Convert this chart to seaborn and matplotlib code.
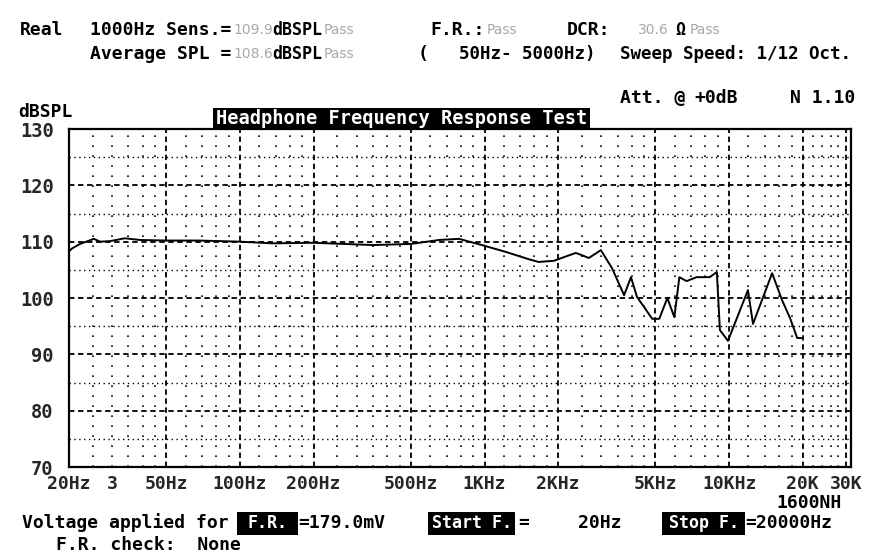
import numpy as np
import pandas as pd
import matplotlib
matplotlib.use("Agg")
import matplotlib.pyplot as plt
import matplotlib.ticker as mticker
from matplotlib.patches import Rectangle
import seaborn as sns

# frequency response
freq_hz = [20, 20.6, 22.2, 25.3, 26.8, 29.5, 33.8, 39.0, 50, 68, 100, 136, 200,
           351, 500, 540, 652, 787, 974, 1218, 1513, 1662, 1919, 2360, 2500,
           2670, 2990, 3320, 3720, 3970, 4200, 4850, 5180, 5590, 5970, 6260,
           6700, 7360, 8330, 8910, 9170, 9890, 11940, 12520, 14990, 16470,
           17760, 18980, 19890]
spl_db = [108.3, 108.8, 109.6, 110.5, 110.0, 110.1, 110.6, 110.3, 110.2, 110.2,
          110.0, 109.7, 109.8, 109.4, 109.6, 109.8, 110.3, 110.5, 109.4, 108.2,
          106.9, 106.4, 106.6, 108.0, 107.6, 107.1, 108.5, 105.3, 100.5, 103.7,
          100.2, 96.3, 96.3, 100.0, 96.6, 103.7, 103.0, 103.7, 103.7, 104.6,
          94.3, 92.4, 101.4, 95.4, 104.4, 99.6, 96.4, 92.9, 92.9]

major_f = [20, 50, 100, 200, 500, 1000, 2000, 5000, 10000, 20000, 30000]
major_lbl = ["20Hz", "50Hz", "100Hz", "200Hz", "500Hz", "1KHz", "2KHz",
             "5KHz", "10KHz", "20K", "30K"]
minor_f = [25, 30, 35, 40, 45, 60, 70, 80, 90, 120, 140, 160, 180,
           250, 300, 350, 400, 450, 600, 700, 800, 900, 1200, 1400, 1600, 1800,
           2500, 3000, 3500, 4000, 4500, 6000, 7000, 8000, 9000,
           12000, 14000, 16000, 18000, 22000, 24000, 26000, 28000]
y_ticks = [70, 80, 90, 100, 110, 120, 130]

df = pd.DataFrame({"freq": freq_hz, "spl": spl_db})

sns.set_style("white")
plt.rcParams["font.family"] = ["DejaVu Sans Mono", "DejaVu Sans"]
plt.rcParams["font.weight"] = "bold"

W, H = 880, 555
fig = plt.figure(figsize=(8.8, 5.55), dpi=100)
ax = fig.add_axes([69 / W, 1 - 467 / H, 782 / W, 338 / H])


def put(x, y, s, size=13, color="black", weight="bold", **kw):
    fig.text(x / W, 1 - y / H, s, fontsize=size, color=color,
             fontweight=weight, va="center", ha=kw.pop("ha", "left"), **kw)


def label_box(x0, x1, y0, y1, s, size=12):
    fig.patches.append(Rectangle((x0 / W, 1 - y1 / H), (x1 - x0) / W,
                                 (y1 - y0) / H, transform=fig.transFigure,
                                 fc="black", ec="none"))
    put((x0 + x1) / 2, (y0 + y1) / 2, s, size=size, color="white", ha="center")


def gray_txt(x, y, s, size=10):
    fig.text(x / W, 1 - y / H, s, fontsize=size, color="#a8a8a8",
             fontweight="normal", family="DejaVu Sans", va="center")


sns.lineplot(data=df, x="freq", y="spl", ax=ax, color="black", lw=1.4)
ax.set_xscale("log")
ax.set_xlim(20, 31500)
ax.set_ylim(70, 130)
ax.set_xlabel("")
ax.set_ylabel("")

ax.xaxis.set_major_locator(mticker.FixedLocator(major_f))
ax.xaxis.set_major_formatter(mticker.FixedFormatter(major_lbl))
ax.xaxis.set_minor_locator(mticker.FixedLocator(minor_f))
ax.xaxis.set_minor_formatter(mticker.FixedFormatter(
    ["3" if f == 30 else "" for f in minor_f]))
ax.set_yticks(y_ticks)
ax.set_yticks(np.arange(75, 130, 10), minor=True)
ax.tick_params(axis="x", which="both", length=0, labelsize=13, pad=6)
ax.tick_params(axis="y", which="both", length=0, labelsize=13.5, pad=11)
for lbl in ax.get_xticklabels() + ax.get_yticklabels() + ax.get_xticklabels(minor=True):
    lbl.set_fontweight("bold")

ax.grid(which="major", color="black", linestyle=(0, (3, 2)), lw=1.3)
ax.grid(which="minor", axis="x", color="black", linestyle=(0, (1, 5)), lw=1.2)
ax.grid(which="minor", axis="y", color="black", linestyle=(0, (1, 2.5)), lw=1.0)
for sp in ax.spines.values():
    sp.set_color("black")
    sp.set_linewidth(1.6)

# header lines
put(20, 30, "Real")
put(90, 30, "1000Hz Sens.=")
gray_txt(233, 30, "109.9")
put(272, 30, "dBSPL", size=12)
gray_txt(324, 30, "Pass")
put(430, 30, "F.R.:")
gray_txt(487, 30, "Pass")
put(567, 30, "DCR:")
gray_txt(638, 30, "30.6")
put(675, 30, "Ω", size=12)
gray_txt(690, 30, "Pass")

put(90, 54, "Average SPL =")
gray_txt(233, 54, "108.6")
put(272, 54, "dBSPL", size=12)
gray_txt(324, 54, "Pass")
put(418, 54, "(")
put(459, 54, "50Hz- 5000Hz)", size=12.6)
put(620, 54, "Sweep Speed: 1/12 Oct.", size=12.6)

put(620, 98, "Att. @")
put(694, 98, "+0dB")
put(790, 98, "N 1.10")
put(18, 112, "dBSPL")

label_box(213, 590, 108, 129, "Headphone Frequency Response Test", size=13.4)

put(842, 503, "1600NH", ha="right")

# footer
put(22, 523, "Voltage applied for")
label_box(237, 298, 512, 535, "F.R.")
put(298, 523, "=179.0mV")
label_box(428, 515, 512, 535, "Start F.")
put(518, 523, "=")
put(578, 523, "20Hz")
label_box(662, 745, 512, 535, "Stop F.")
put(745, 523, "=20000Hz")
put(56, 545, "F.R. check:  None")

fig.savefig("out.png", dpi=100, facecolor="white")
